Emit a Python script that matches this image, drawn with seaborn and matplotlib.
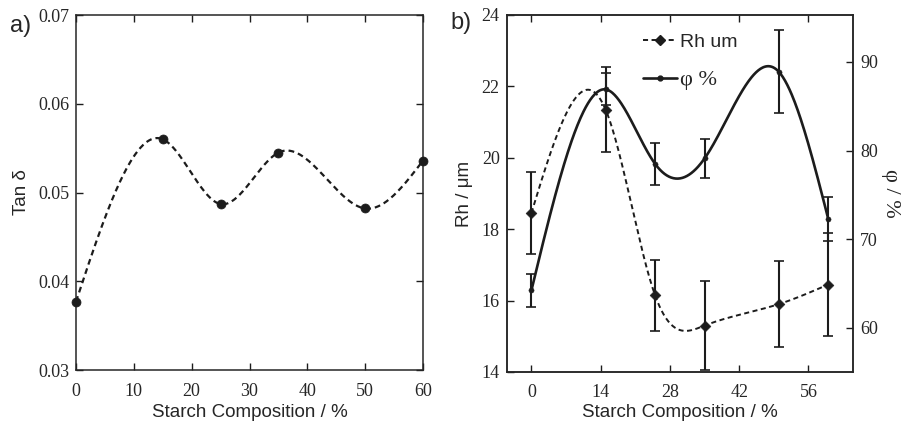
import numpy as np
import pandas as pd
import matplotlib
matplotlib.use("Agg")
import matplotlib.pyplot as plt
from matplotlib.lines import Line2D
import seaborn as sns

# datos
comp_a = [0, 15, 25, 35, 50, 60]
tan_delta = [0.0377, 0.0560, 0.0487, 0.0545, 0.0482, 0.0536]

comp_b = [0, 15, 25, 35, 50, 60]
rh = [18.45, 21.35, 16.15, 15.30, 15.90, 16.45]
rh_err = [1.15, 1.20, 1.00, 1.25, 1.20, 1.45]
phi = [64.2, 86.9, 78.5, 79.1, 88.9, 72.3]
phi_err = [1.9, 1.8, 2.35, 2.2, 4.7, 2.5]

xticks_a = [0, 10, 20, 30, 40, 50, 60]
yticks_a = [0.03, 0.04, 0.05, 0.06, 0.07]
xticks_b = [0, 14, 28, 42, 56]
yticks_rh = [14, 16, 18, 20, 22, 24]
yticks_phi = [60, 70, 80, 90]

INK = "#1c1c1c"
SERIF = "Liberation Serif"


def spline_natural(x, y, n=400):
    # spline cubico natural para suavizar la curva
    x = np.asarray(x, float)
    y = np.asarray(y, float)
    k = len(x)
    h = np.diff(x)
    A = np.zeros((k, k))
    r = np.zeros(k)
    A[0, 0] = A[-1, -1] = 1
    for i in range(1, k - 1):
        A[i, i - 1] = h[i - 1]
        A[i, i] = 2 * (h[i - 1] + h[i])
        A[i, i + 1] = h[i]
        r[i] = 6 * ((y[i + 1] - y[i]) / h[i] - (y[i] - y[i - 1]) / h[i - 1])
    M = np.linalg.solve(A, r)
    xs = np.linspace(x[0], x[-1], n)
    idx = np.clip(np.searchsorted(x, xs) - 1, 0, k - 2)
    x0, x1 = x[idx], x[idx + 1]
    hh = x1 - x0
    t0, t1 = xs - x0, x1 - xs
    ys = ((M[idx] * t1**3 + M[idx + 1] * t0**3) / (6 * hh)
          + (y[idx] / hh - M[idx] * hh / 6) * t1
          + (y[idx + 1] / hh - M[idx + 1] * hh / 6) * t0)
    return pd.DataFrame({"x": xs, "y": ys})


sns.set_style("ticks")
plt.rcParams["font.family"] = ["Liberation Sans", "DejaVu Sans"]
plt.rcParams["axes.linewidth"] = 1.1

fig = plt.figure(figsize=(9.07, 4.22), dpi=100)

# ============================================
# a) Tan delta
# ============================================
ax = fig.add_axes([0.0838, 0.1232, 0.3826, 0.8412])

curva_a = spline_natural(comp_a, tan_delta)
sns.lineplot(data=curva_a, x="x", y="y", ax=ax, color=INK, lw=1.6,
             linestyle=(0, (2.6, 1.8)))
sns.scatterplot(x=comp_a, y=tan_delta, ax=ax, color=INK, s=42,
                edgecolor=INK, zorder=5, clip_on=False)

ax.set_xlim(0, 60)
ax.set_ylim(0.03, 0.07)
ax.set_xticks(xticks_a)
ax.set_yticks(yticks_a)
ax.set_yticklabels([f"{v:.2f}" for v in yticks_a])
ax.tick_params(direction="in", length=5, width=1, top=True, right=True,
               labelsize=13, color=INK)
ax.tick_params(axis="x", pad=9)
ax.tick_params(axis="y", pad=5)
for lab in ax.get_xticklabels() + ax.get_yticklabels():
    lab.set_fontfamily(SERIF)
ax.set_xlabel("Starch Composition / %", fontsize=13.5, labelpad=3)
ax.set_ylabel("Tan δ", fontsize=13.5, labelpad=6)
fig.text(0.011, 0.965, "a)", fontsize=17, va="top")

# ============================================
# b) Rh y phi
# ============================================
axb = fig.add_axes([0.5586, 0.1185, 0.3818, 0.846])
axr = axb.twinx()

curva_rh = spline_natural(comp_b, rh)
curva_phi = spline_natural(comp_b, phi)

sns.lineplot(data=curva_rh, x="x", y="y", ax=axb, color=INK, lw=1.4,
             linestyle=(0, (2.6, 1.8)))
axb.errorbar(comp_b, rh, yerr=rh_err, fmt="none", ecolor=INK, elinewidth=1.5,
             capsize=3.5, capthick=1.2)
sns.scatterplot(x=comp_b, y=rh, ax=axb, marker="D", color=INK, s=30,
                edgecolor=INK, zorder=5)

sns.lineplot(data=curva_phi, x="x", y="y", ax=axr, color=INK, lw=1.9)
axr.errorbar(comp_b, phi, yerr=phi_err, fmt="none", ecolor=INK, elinewidth=1.5,
             capsize=3.5, capthick=1.2)
sns.scatterplot(x=comp_b, y=phi, ax=axr, marker="o", color=INK, s=14,
                edgecolor=INK, zorder=5)

axb.set_xlim(-5, 65)
axb.set_ylim(14, 24)
axr.set_ylim(55, 95.3)
axb.set_xticks(xticks_b)
axb.set_yticks(yticks_rh)
axr.set_yticks(yticks_phi)
axb.tick_params(direction="in", length=5, width=1, top=True, right=False,
                labelsize=13, color=INK)
axb.tick_params(axis="x", pad=9)
axb.tick_params(axis="y", pad=5)
axr.tick_params(direction="in", length=5, width=1, labelsize=13, pad=5,
                color=INK)
for lab in axb.get_xticklabels() + axb.get_yticklabels() + axr.get_yticklabels():
    lab.set_fontfamily(SERIF)

axb.set_xlabel("Starch Composition / %", fontsize=13.5, labelpad=2)
axb.set_ylabel("Rh / μm", fontsize=13.5, labelpad=6)
axr.set_ylabel("φ / %", fontsize=16, rotation=-90, labelpad=16,
               fontfamily=SERIF)
fig.text(0.497, 0.972, "b)", fontsize=17, va="top")

handles = [
    Line2D([], [], color=INK, lw=1.4, linestyle=(0, (2.6, 1.8)), marker="D",
           markersize=5),
    Line2D([], [], color=INK, lw=1.9, marker="o", markersize=3.5),
]
leg = axb.legend(handles, ["Rh um", "φ %"], loc="upper left",
                 bbox_to_anchor=(0.365, 0.975), frameon=False, fontsize=14,
                 handlelength=1.75, handletextpad=0.15, labelspacing=1.0,
                 borderpad=0)
leg.get_texts()[1].set_fontfamily(SERIF)
leg.get_texts()[1].set_fontsize(16)

fig.savefig("out.png", dpi=100)
